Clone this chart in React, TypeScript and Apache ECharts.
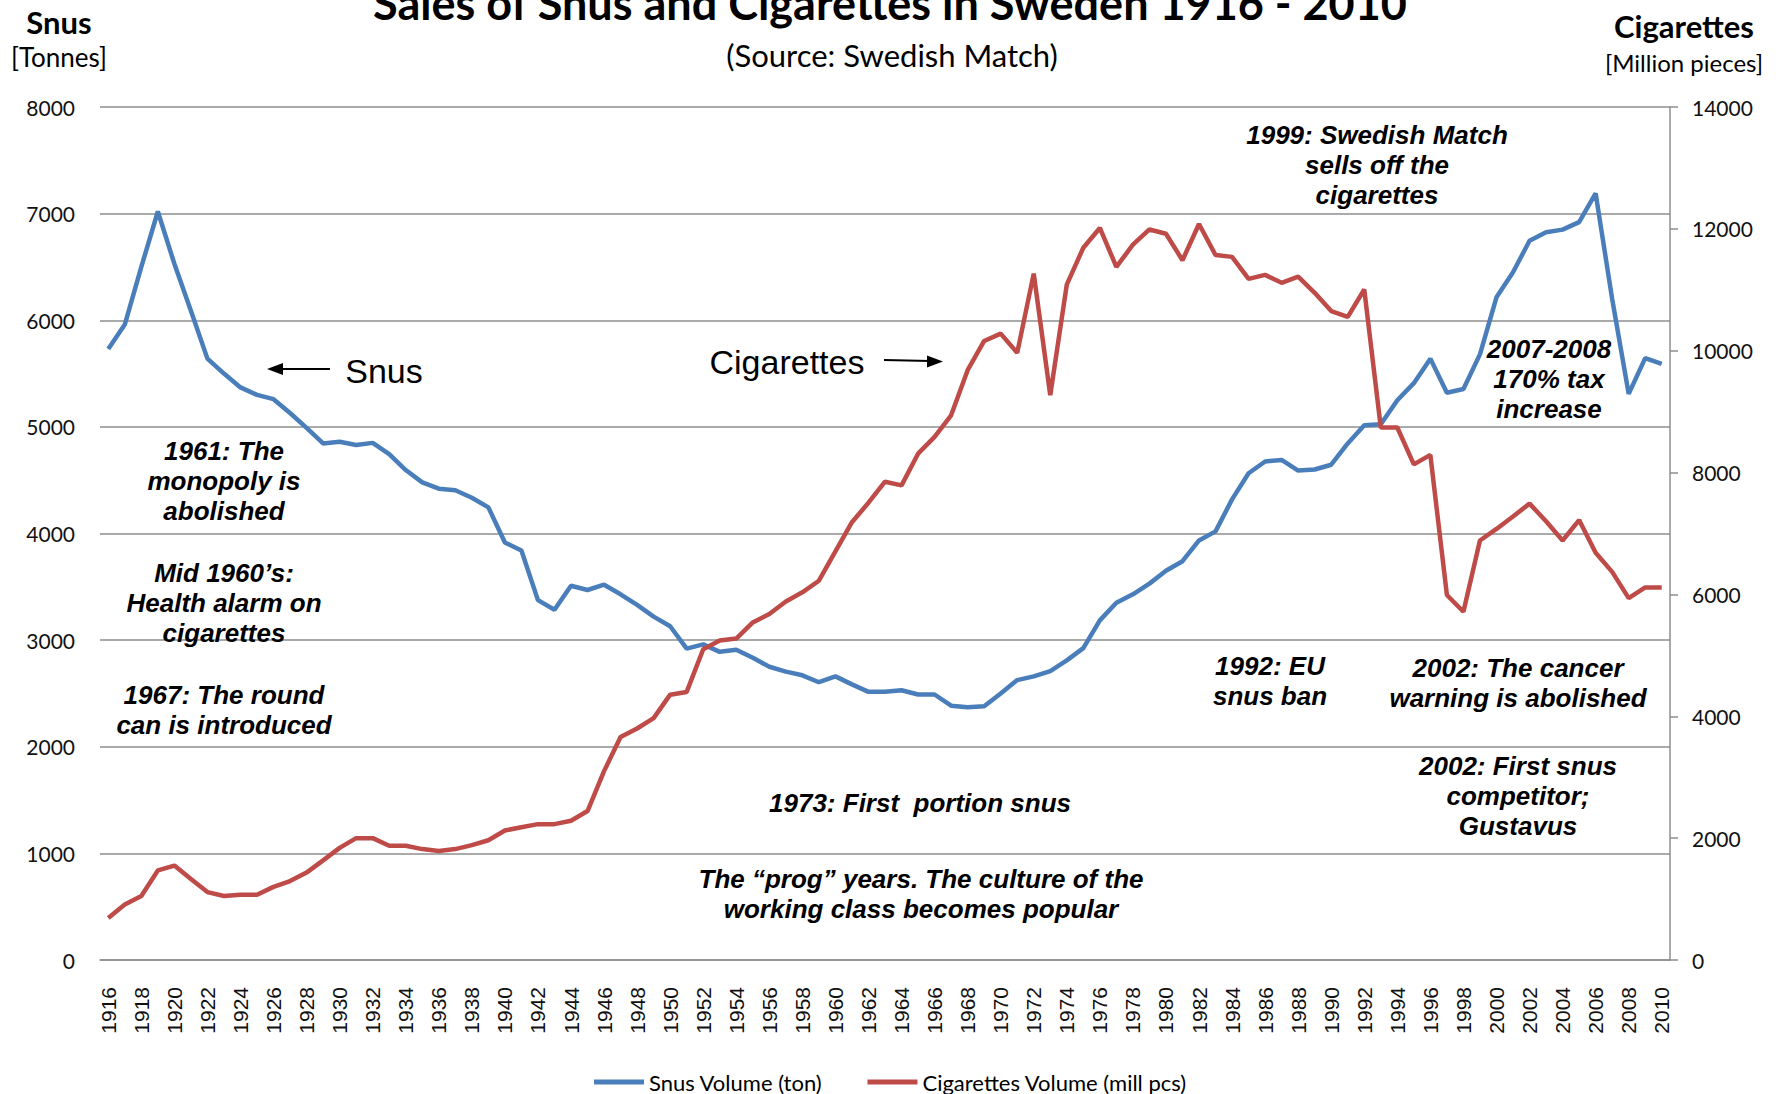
import React, { useEffect, useRef } from "react";
import * as echarts from "echarts";

const years = [
  "1916","1917","1918","1919","1920","1921","1922","1923","1924","1925",
  "1926","1927","1928","1929","1930","1931","1932","1933","1934","1935",
  "1936","1937","1938","1939","1940","1941","1942","1943","1944","1945",
  "1946","1947","1948","1949","1950","1951","1952","1953","1954","1955",
  "1956","1957","1958","1959","1960","1961","1962","1963","1964","1965",
  "1966","1967","1968","1969","1970","1971","1972","1973","1974","1975",
  "1976","1977","1978","1979","1980","1981","1982","1983","1984","1985",
  "1986","1987","1988","1989","1990","1991","1992","1993","1994","1995",
  "1996","1997","1998","1999","2000","2001","2002","2003","2004","2005",
  "2006","2007","2008","2009","2010",
];

// Snus volume, tonnes (left axis)
const snusTonnes = [
  5730, 5960, 6500, 7020, 6530, 6090, 5640, 5500, 5370, 5300,
  5260, 5130, 4990, 4845, 4860, 4830, 4850, 4745, 4595, 4480,
  4420, 4405, 4335, 4245, 3915, 3840, 3375, 3285, 3510, 3470,
  3520, 3430, 3330, 3220, 3130, 2920, 2960, 2890, 2910, 2835,
  2750, 2705, 2670, 2605, 2660, 2585, 2515, 2515, 2530, 2490,
  2490, 2385, 2370, 2380, 2500, 2625, 2660, 2710, 2810, 2925,
  3185, 3350, 3430, 3530, 3650, 3740, 3935, 4020, 4320, 4565,
  4675, 4690, 4590, 4600, 4645, 4845, 5015, 5025, 5250, 5410,
  5640, 5320, 5355, 5680, 6215, 6450, 6745, 6825, 6850, 6920,
  7190, 6200, 5310, 5645, 5590,
];

// Cigarettes volume, million pieces (right axis)
const cigarettesMillion = [
  690, 910, 1050, 1470, 1550, 1330, 1115, 1050, 1070, 1070,
  1200, 1295, 1435, 1635, 1840, 2000, 2000, 1875, 1875, 1820,
  1790, 1820, 1885, 1965, 2125, 2180, 2230, 2230, 2285, 2445,
  3100, 3660, 3800, 3970, 4355, 4400, 5100, 5245, 5275, 5540,
  5680, 5885, 6035, 6225, 6705, 7185, 7505, 7850, 7790, 8310,
  8585, 8940, 9680, 10160, 10280, 9965, 11265, 9270, 11085, 11690,
  12015, 11375, 11740, 11990, 11920, 11485, 12080, 11570, 11540, 11180,
  11245, 11115, 11215, 10950, 10650, 10555, 11005, 8740, 8740, 8135,
  8290, 5990, 5715, 6885, 7075, 7280, 7490, 7200, 6885, 7220,
  6685, 6370, 5940, 6115, 6115,
];

const seriesNames = ["Snus Volume (ton)", "Cigarettes Volume (mill pcs)"];

const annotations = [
  { text: "1961: The\nmonopoly is\nabolished", x: 224, y: 481 },
  { text: "Mid 1960\u2019s:\nHealth alarm on\ncigarettes", x: 224, y: 603 },
  { text: "1967: The round\ncan is introduced", x: 224, y: 710 },
  { text: "1973: First  portion snus", x: 920, y: 803 },
  { text: "The \u201cprog\u201d years. The culture of the\nworking class becomes popular", x: 921, y: 894 },
  { text: "1992: EU\nsnus ban", x: 1270, y: 681 },
  { text: "2002: The cancer\nwarning is abolished", x: 1518, y: 683 },
  { text: "2002: First snus\ncompetitor;\nGustavus", x: 1518, y: 796 },
  { text: "1999: Swedish Match\nsells off the\ncigarettes", x: 1377, y: 165 },
  { text: "2007-2008\n170% tax\nincrease", x: 1549, y: 379 },
];

const BLUE = "#4A7EBB";
const RED = "#BE4B48";
const GRID = "#8E8E8E";

export default function App() {
  const ref = useRef<HTMLDivElement>(null);

  useEffect(() => {
    if (!ref.current) return;
    const chart = echarts.init(ref.current, null, { renderer: "svg" });

    const annoFont = {
      fontFamily: "Liberation Sans",
      fontWeight: "bold",
      fontStyle: "italic",
      fontSize: 26,
      lineHeight: 30,
      fill: "#000",
      align: "center",
      verticalAlign: "middle",
    };

    const graphics: any[] = [
      {
        type: "text",
        x: 890,
        y: 3,
        z: 100,
        style: {
          text: "Sales of Snus and Cigarettes in Sweden 1916 - 2010",
          fontFamily: "Lato",
          fontWeight: "bold",
          fontSize: 45,
          fill: "#000",
          align: "center",
          verticalAlign: "middle",
        },
      },
      {
        type: "text",
        x: 892,
        y: 55,
        z: 100,
        style: {
          text: "(Source: Swedish Match)",
          fontFamily: "Lato",
          fontSize: 31,
          fill: "#000",
          align: "center",
          verticalAlign: "middle",
        },
      },
      {
        type: "text",
        x: 59,
        y: 22,
        z: 100,
        style: {
          text: "Snus",
          fontFamily: "Lato",
          fontWeight: "bold",
          fontSize: 31,
          fill: "#000",
          align: "center",
          verticalAlign: "middle",
        },
      },
      {
        type: "text",
        x: 59,
        y: 57,
        z: 100,
        style: {
          text: "[Tonnes]",
          fontFamily: "Lato",
          fontSize: 26,
          fill: "#000",
          align: "center",
          verticalAlign: "middle",
        },
      },
      {
        type: "text",
        x: 1684,
        y: 26,
        z: 100,
        style: {
          text: "Cigarettes",
          fontFamily: "Lato",
          fontWeight: "bold",
          fontSize: 31,
          fill: "#000",
          align: "center",
          verticalAlign: "middle",
        },
      },
      {
        type: "text",
        x: 1684,
        y: 62,
        z: 100,
        style: {
          text: "[Million pieces]",
          fontFamily: "Lato",
          fontSize: 24,
          fill: "#000",
          align: "center",
          verticalAlign: "middle",
        },
      },
      // Snus arrow label
      {
        type: "text",
        x: 384,
        y: 371,
        z: 100,
        style: {
          text: "Snus",
          fontFamily: "Liberation Sans",
          fontSize: 34,
          fill: "#000",
          align: "center",
          verticalAlign: "middle",
        },
      },
      {
        type: "line",
        z: 100,
        shape: { x1: 330, y1: 369, x2: 280, y2: 369 },
        style: { stroke: "#000", lineWidth: 2 },
      },
      {
        type: "polygon",
        z: 100,
        shape: { points: [[267, 369], [283, 363], [283, 375]] },
        style: { fill: "#000" },
      },
      // Cigarettes arrow label
      {
        type: "text",
        x: 787,
        y: 362,
        z: 100,
        style: {
          text: "Cigarettes",
          fontFamily: "Liberation Sans",
          fontSize: 34,
          fill: "#000",
          align: "center",
          verticalAlign: "middle",
        },
      },
      {
        type: "line",
        z: 100,
        shape: { x1: 884, y1: 360, x2: 930, y2: 361 },
        style: { stroke: "#000", lineWidth: 2 },
      },
      {
        type: "polygon",
        z: 100,
        shape: { points: [[943, 361.5], [927, 355.5], [927, 367.5]] },
        style: { fill: "#000" },
      },
      ...annotations.map((a) => ({
        type: "text",
        x: a.x,
        y: a.y,
        z: 100,
        style: { ...annoFont, text: a.text },
      })),
    ];

    const option: any = {
      animation: false,
      backgroundColor: "#ffffff",
      grid: {
        left: 100,
        right: 111,
        top: 107,
        bottom: 134,
        containLabel: false,
        outerBoundsMode: "none",
      },
      legend: {
        data: seriesNames,
        left: "center",
        top: 1066,
        icon: "rect",
        itemWidth: 50,
        itemHeight: 5,
        itemGap: 45,
        textStyle: { fontFamily: "Lato", fontSize: 22, color: "#000" },
      },
      xAxis: {
        type: "category",
        data: years,
        boundaryGap: true,
        axisLine: { show: true, lineStyle: { color: GRID, width: 1.5 } },
        axisTick: { show: false },
        axisLabel: {
          interval: 1,
          rotate: 90,
          margin: 27,
          fontFamily: "Liberation Sans",
          fontSize: 21,
          color: "#111",
        },
        splitLine: { show: false },
      },
      yAxis: [
        {
          type: "value",
          min: 0,
          max: 8000,
          interval: 1000,
          position: "left",
          axisLine: { show: false },
          axisTick: { show: false },
          axisLabel: {
            margin: 25,
            fontFamily: "Lato",
            fontSize: 21,
            color: "#111",
            formatter: (v: number) => String(v),
          },
          splitLine: { show: true, lineStyle: { color: GRID, width: 1.5 } },
        },
        {
          type: "value",
          min: 0,
          max: 14000,
          interval: 2000,
          position: "right",
          axisLine: { show: true, lineStyle: { color: GRID, width: 1.5 } },
          axisTick: {
            show: true,
            inside: false,
            length: 8,
            lineStyle: { color: GRID, width: 1.5 },
          },
          axisLabel: {
            margin: 22,
            fontFamily: "Lato",
            fontSize: 21,
            color: "#111",
            formatter: (v: number) => String(v),
          },
          splitLine: { show: false },
        },
      ],
      series: [
        {
          name: seriesNames[0],
          type: "line",
          yAxisIndex: 0,
          data: snusTonnes,
          symbol: "none",
          smooth: false,
          lineStyle: { color: BLUE, width: 4.5 },
          itemStyle: { color: BLUE },
          z: 3,
        },
        {
          name: seriesNames[1],
          type: "line",
          yAxisIndex: 1,
          data: cigarettesMillion,
          symbol: "none",
          smooth: false,
          lineStyle: { color: RED, width: 4.5 },
          itemStyle: { color: RED },
          z: 4,
        },
      ],
      graphic: graphics,
    };

    chart.setOption(option);
    return () => chart.dispose();
  }, []);

  return (
    <div
      ref={ref}
      style={{
        position: "fixed",
        left: 0,
        top: 0,
        width: 1781,
        height: 1094,
        background: "#fff",
      }}
    />
  );
}
